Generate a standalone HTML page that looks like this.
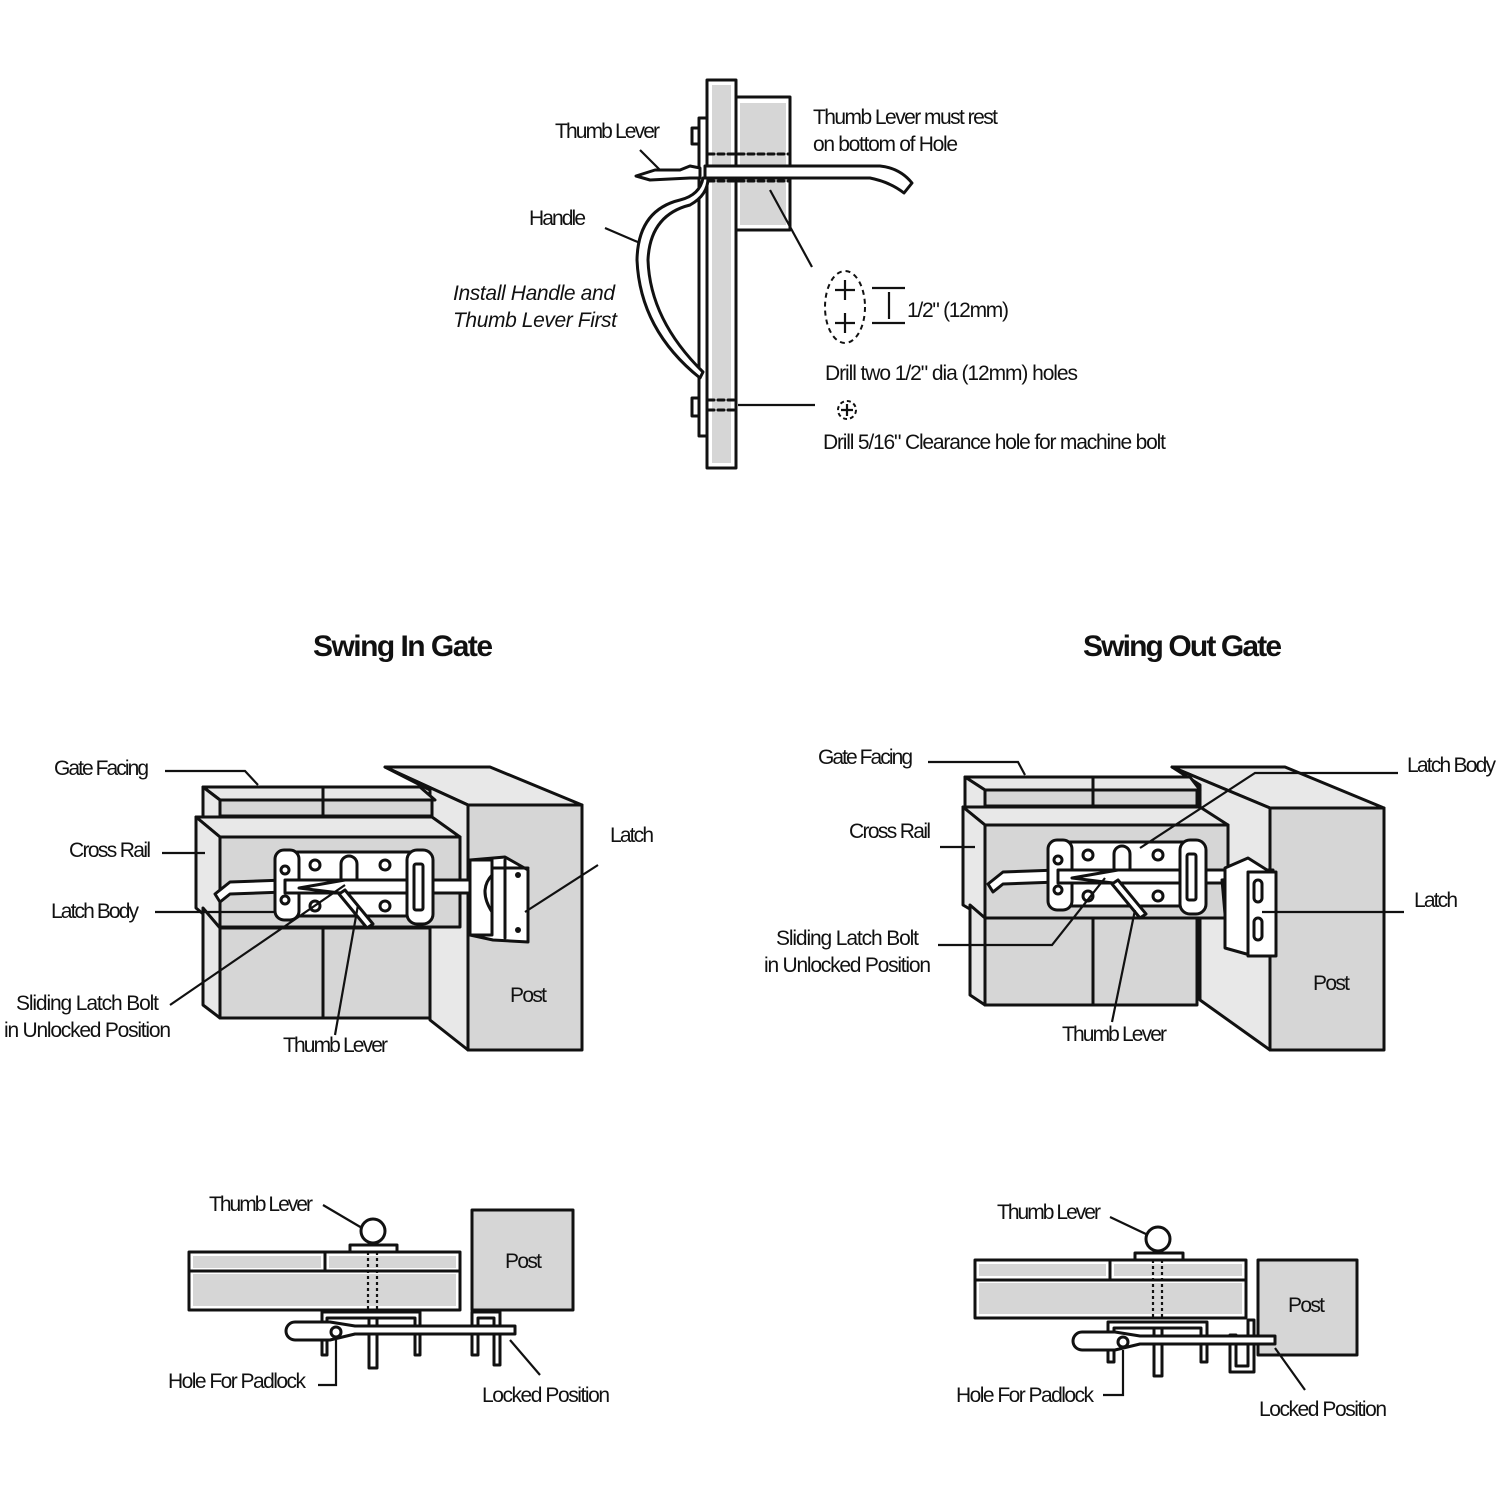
<!DOCTYPE html>
<html><head><meta charset="utf-8"><style>
html,body{margin:0;padding:0;background:#fff;}
svg{display:block;}
text{font-family:"Liberation Sans Narrow","Liberation Sans",sans-serif;font-size:21px;fill:#111;}
.t{font-weight:bold;font-size:30px;}
.s{stroke:#111;stroke-width:3;fill:none;stroke-linejoin:round;stroke-linecap:round;}
.g{fill:#d6d6d6;stroke:#111;stroke-width:3;stroke-linejoin:round;}
.l{fill:#e8e8e8;stroke:#111;stroke-width:3;stroke-linejoin:round;}
.w{fill:#fff;stroke:#111;stroke-width:3;stroke-linejoin:round;}
.ln{stroke:#111;stroke-width:2.2;fill:none;}
</style></head><body>
<svg width="1500" height="1500" viewBox="0 0 1500 1500" xmlns="http://www.w3.org/2000/svg">
<defs>
<g id="latch">
  <path class="w" d="M-60,44 L-45,32 L10,30 L10,42 L-45,44 L-55,52 Z"/>
  <rect class="w" x="10" y="2" width="130" height="64"/>
  <rect class="w" x="0" y="0" width="24" height="70" rx="9"/>
  <circle class="w" cx="10" cy="20" r="4"/><circle class="w" cx="10" cy="50" r="4"/>
  <circle class="w" cx="40" cy="15" r="5"/><circle class="w" cx="40" cy="56" r="5"/>
  <circle class="w" cx="110" cy="15" r="5"/><circle class="w" cx="110" cy="56" r="5"/>
  <rect class="w" x="66" y="6" width="16" height="30" rx="8"/>
  <rect class="w" x="10" y="30" width="215" height="13"/>
  <path class="s" d="M24,38 L70,30 M24,38 L65,43"/>
  <path class="w" d="M70,40 L98,74 L92,78 L64,44 Z"/>
  <rect class="w" x="132" y="0" width="26" height="74" rx="10"/>
  <rect class="w" x="139" y="14" width="9" height="46" rx="2"/>
</g>
</defs>

<!-- TOP DIAGRAM -->
<rect class="w" x="707" y="80" width="29" height="388"/>
<rect x="712" y="85" width="19" height="378" fill="#d6d6d6"/>
<rect class="w" x="736" y="97" width="54" height="133"/>
<rect x="740" y="103" width="46" height="122" fill="#d6d6d6"/>
<rect class="w" x="699" y="118" width="8" height="318"/>
<rect class="w" x="692" y="128" width="7" height="16"/>
<rect class="w" x="692" y="398" width="7" height="18"/>
<path class="s" stroke-dasharray="6,4" d="M708,154 L790,154 M708,181 L790,181 M708,400 L736,400 M708,410 L736,410"/>
<path class="w" d="M705,166 L880,166 Q900,168 912,183 L904,193 Q890,182 870,178 L705,178 Z"/>
<path class="w" d="M700,168 L690,166 L680,170 L655,170 L636,176 L650,180 L690,178 L700,178 Z"/>
<path class="w" d="M703,178 Q700,195 680,200 Q638,210 637,260 Q640,330 700,378 L703,372 Q650,320 648,260 Q650,215 690,205 Q708,195 708,178 Z"/>
<path class="ln" d="M640,150 L660,170 M605,228 L640,243 M770,190 L812,267 M738,405 L815,405"/>
<ellipse cx="845" cy="307" rx="20" ry="36" fill="none" stroke="#111" stroke-width="2" stroke-dasharray="5,4"/>
<path class="ln" d="M845,280 L845,300 M835,290 L855,290 M845,313 L845,333 M835,323 L855,323"/>
<path class="ln" d="M872,288 L905,288 M872,323 L905,323 M889,292 L889,319"/>
<circle cx="847" cy="410" r="9" fill="none" stroke="#111" stroke-width="2" stroke-dasharray="4,3"/>
<path class="ln" d="M847,404 L847,416 M841,410 L853,410"/>
<text x="555" y="138" textLength="105">Thumb Lever</text>
<text x="529" y="225" textLength="57">Handle</text>
<text x="453" y="300" textLength="162" font-style="italic">Install Handle and</text>
<text x="453" y="327" textLength="164" font-style="italic">Thumb Lever First</text>
<text x="813" y="124" textLength="185">Thumb Lever must rest</text>
<text x="813" y="151" textLength="145">on bottom of Hole</text>
<text x="907" y="317" textLength="102">1/2" (12mm)</text>
<text x="825" y="380" textLength="253">Drill two 1/2" dia (12mm) holes</text>
<text x="823" y="449" textLength="343">Drill 5/16" Clearance hole for machine bolt</text>

<!-- TITLES -->
<text class="t" x="313" y="656" textLength="180">Swing In Gate</text>
<text class="t" x="1083" y="656" textLength="199">Swing Out Gate</text>

<!-- SWING IN GATE -->
<path class="l" d="M385,767 L490,767 L582,805 L468,805 Z"/>
<path class="l" d="M385,767 L468,805 L468,1050 L430,1020 L430,790 Z"/>
<rect class="g" x="468" y="805" width="114" height="245"/>
<path class="l" d="M203,787 L420,787 L435,800 L220,800 Z"/>
<path class="l" d="M203,787 L220,800 L220,817 L203,817 Z"/>
<rect class="g" x="220" y="800" width="212" height="16"/>
<path class="s" d="M323,787 L323,816"/>
<path class="l" d="M196,817 L432,817 L460,837 L220,837 Z"/>
<path class="l" d="M196,817 L220,837 L220,928 L196,908 Z"/>
<rect class="g" x="220" y="837" width="240" height="90"/>
<path class="l" d="M203,908 L220,928 L220,1018 L203,1005 Z"/>
<rect class="g" x="220" y="928" width="210" height="90"/>
<path class="s" d="M323,928 L323,1018"/>
<use href="#latch" x="275" y="850"/>
<path class="w" d="M470,860 L505,857 L528,870 L528,942 L493,940 L470,935 Z"/>
<rect class="w" x="470" y="860" width="22" height="75"/>
<path class="s" d="M505,860 L505,938 M493,868 L528,868"/>
<circle cx="518" cy="875" r="3" fill="#111"/><circle cx="518" cy="930" r="3" fill="#111"/>
<path class="s" d="M492,875 Q478,890 492,912"/>
<path class="ln" d="M165,771 L245,771 L258,785 M162,853 L205,853 M155,912 L275,912 M170,1005 L345,885 M335,1035 L358,905 M598,865 L525,912"/>
<text x="54" y="775" textLength="95">Gate Facing</text>
<text x="69" y="857" textLength="82">Cross Rail</text>
<text x="51" y="918" textLength="88">Latch Body</text>
<text x="16" y="1010" textLength="143">Sliding Latch Bolt</text>
<text x="4" y="1037" textLength="167">in Unlocked Position</text>
<text x="283" y="1052" textLength="105">Thumb Lever</text>
<text x="510" y="1002" textLength="37">Post</text>
<text x="610" y="842" textLength="44">Latch</text>

<!-- SWING OUT GATE -->
<path class="l" d="M1172,767 L1285,767 L1384,808 L1270,808 Z"/>
<path class="l" d="M1172,767 L1270,808 L1270,1050 L1200,1000 L1200,785 Z"/>
<rect class="g" x="1270" y="808" width="114" height="242"/>
<path class="l" d="M965,777 L1190,777 L1200,790 L985,790 Z"/>
<path class="l" d="M965,777 L985,790 L985,807 L965,807 Z"/>
<rect class="g" x="985" y="790" width="212" height="16"/>
<path class="s" d="M1093,777 L1093,806"/>
<path class="l" d="M963,807 L1200,807 L1228,825 L985,825 Z"/>
<path class="l" d="M963,807 L985,825 L985,918 L963,905 Z"/>
<rect class="g" x="985" y="825" width="243" height="93"/>
<path class="l" d="M970,905 L985,918 L985,1005 L970,995 Z"/>
<rect class="g" x="985" y="918" width="212" height="87"/>
<path class="s" d="M1093,918 L1093,1005"/>
<use href="#latch" x="1048" y="840"/>
<path class="w" d="M1222,880 L1240,878 L1245,950 L1228,948 Z"/>
<path class="w" d="M1225,868 L1248,858 L1275,875 L1275,955 L1250,955 L1225,948 Z"/>
<rect class="w" x="1248" y="872" width="28" height="84"/>
<rect class="w" x="1254" y="880" width="8" height="22" rx="4"/>
<rect class="w" x="1254" y="918" width="8" height="22" rx="4"/>
<path class="ln" d="M928,762 L1018,762 L1025,775 M940,847 L975,847 M1398,773 L1255,773 L1140,848 M1404,912 L1262,912 M938,945 L1052,945 L1105,878 M1112,1022 L1135,910"/>
<text x="818" y="764" textLength="95">Gate Facing</text>
<text x="849" y="838" textLength="82">Cross Rail</text>
<text x="1407" y="772" textLength="89">Latch Body</text>
<text x="1414" y="907" textLength="44">Latch</text>
<text x="776" y="945" textLength="143">Sliding Latch Bolt</text>
<text x="764" y="972" textLength="167">in Unlocked Position</text>
<text x="1062" y="1041" textLength="105">Thumb Lever</text>
<text x="1313" y="990" textLength="37">Post</text>

<!-- BOTTOM LEFT PLAN -->
<rect class="w" x="189" y="1252" width="271" height="58"/>
<rect x="193" y="1256" width="128" height="12" fill="#d6d6d6"/>
<rect x="329" y="1256" width="127" height="12" fill="#d6d6d6"/>
<rect x="193" y="1274" width="263" height="32" fill="#d6d6d6"/>
<path class="s" d="M189,1271 L460,1271 M325,1252 L325,1271"/>
<path class="ln" stroke-dasharray="3,3" d="M368,1252 L368,1310 M377,1252 L377,1310"/>
<rect class="w" x="350" y="1245" width="47" height="7"/>
<circle class="w" cx="373" cy="1231" r="12"/>
<rect class="g" x="472" y="1210" width="101" height="100"/>
<path class="w" d="M322,1312 L420,1312 L420,1355 L415,1355 L415,1318 L327,1318 L327,1355 L322,1355 Z"/>
<rect class="w" x="369" y="1318" width="8" height="50"/>
<path class="w" d="M472,1312 L500,1312 L500,1365 L494,1365 L494,1318 L478,1318 L478,1355 L472,1355 Z"/>
<path class="w" d="M295,1322 L330,1322 L355,1326 L515,1326 L515,1334 L355,1334 L330,1340 L295,1340 A9,9 0 0 1 295,1322 Z"/>
<circle class="w" cx="336" cy="1332" r="5"/>
<path class="ln" d="M323,1205 L362,1228 M336,1340 L336,1385 L318,1385 M510,1340 L540,1375"/>
<text x="209" y="1211" textLength="104">Thumb Lever</text>
<text x="505" y="1268" textLength="37">Post</text>
<text x="168" y="1388" textLength="138">Hole For Padlock</text>
<text x="482" y="1402" textLength="128">Locked Position</text>

<!-- BOTTOM RIGHT PLAN -->
<rect class="w" x="975" y="1260" width="271" height="58"/>
<rect x="979" y="1264" width="127" height="12" fill="#d6d6d6"/>
<rect x="1114" y="1264" width="128" height="12" fill="#d6d6d6"/>
<rect x="979" y="1283" width="263" height="31" fill="#d6d6d6"/>
<path class="s" d="M975,1280 L1246,1280 M1110,1260 L1110,1280"/>
<path class="ln" stroke-dasharray="3,3" d="M1153,1260 L1153,1318 M1162,1260 L1162,1318"/>
<rect class="w" x="1135" y="1253" width="48" height="7"/>
<circle class="w" cx="1158" cy="1239" r="12"/>
<rect class="g" x="1258" y="1260" width="99" height="95"/>
<path class="w" d="M1108,1322 L1207,1322 L1207,1362 L1201,1362 L1201,1328 L1114,1328 L1114,1362 L1108,1362 Z"/>
<rect class="w" x="1154" y="1328" width="8" height="48"/>
<path class="w" d="M1230,1335 L1236,1335 L1236,1366 L1248,1366 L1248,1320 L1254,1320 L1254,1372 L1230,1372 Z"/>
<path class="w" d="M1082,1332 L1115,1332 L1140,1336 L1275,1336 L1275,1344 L1140,1344 L1115,1350 L1082,1350 A9,9 0 0 1 1082,1332 Z"/>
<circle class="w" cx="1123" cy="1342" r="5"/>
<path class="ln" d="M1110,1217 L1148,1235 M1123,1350 L1123,1395 L1103,1395 M1275,1348 L1305,1390"/>
<text x="997" y="1219" textLength="104">Thumb Lever</text>
<text x="1288" y="1312" textLength="37">Post</text>
<text x="956" y="1402" textLength="138">Hole For Padlock</text>
<text x="1259" y="1416" textLength="128">Locked Position</text>
</svg>
</body></html>
